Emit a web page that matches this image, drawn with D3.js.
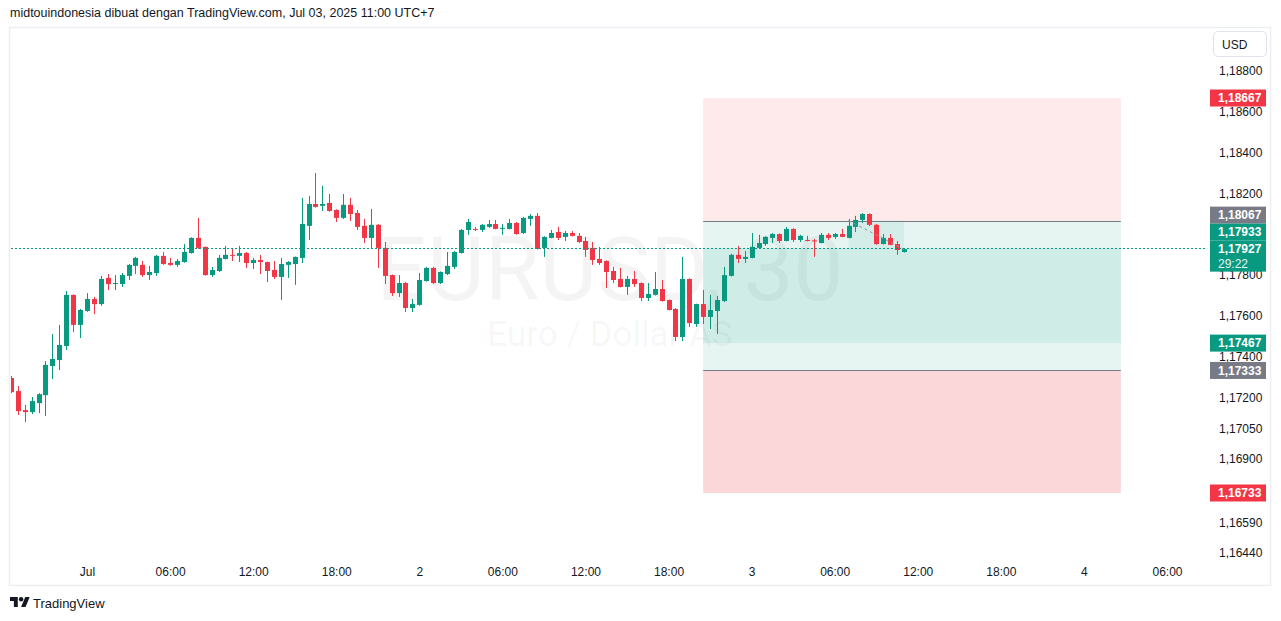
<!DOCTYPE html>
<html><head><meta charset="utf-8">
<script src="https://cdn.jsdelivr.net/npm/d3@7"></script>
<style>
html,body{margin:0;padding:0;background:#fff;}
svg{display:block;font-family:"Liberation Sans",Arial,sans-serif;}
</style></head><body>
<svg id="chart" width="1281" height="621"></svg>
<script>
// ---------- DATA ----------
const titleText = "midtouindonesia dibuat dengan TradingView.com, Jul 03, 2025 11:00 UTC+7";
const firstBar = "2025-06-30T18:30:00Z"; // chart time (UTC+7) stored as UTC
const barMinutes = 30;
const opens = [1.17296,1.17232,1.17139,1.17129,1.17173,1.17212,1.17355,1.17384,1.17453,1.17703,
1.17556,1.17624,1.17683,1.17658,1.17786,1.17758,1.17756,1.17796,1.17845,1.17850,
1.17800,1.17810,1.17894,1.17859,1.17850,1.17864,1.17908,1.17982,1.17938,1.17800,
1.17820,1.17879,1.17899,1.17894,1.17908,1.17859,1.17874,1.17864,1.17825,1.17791,
1.17850,1.17854,1.17884,1.18041,1.18148,1.18139,1.18153,1.18119,1.18080,1.18144,
1.18104,1.18041,1.17982,1.18046,1.17933,1.17800,1.17712,1.17761,1.17639,1.17654,
1.17771,1.17835,1.17761,1.17805,1.17840,1.17908,1.18021,1.18026,1.18021,1.18036,
1.18050,1.18029,1.18026,1.18055,1.18006,1.18075,1.18090,1.17933,1.17982,1.18011,
1.17987,1.18006,1.17992,1.17967,1.17933,1.17879,1.17869,1.17820,1.17781,1.17742,
1.17781,1.17761,1.17688,1.17703,1.17732,1.17678,1.17634,1.17497,1.17781,1.17560,
1.17658,1.17595,1.17624,1.17673,1.17796,1.17899,1.17879,1.17884,1.17933,1.17952,
1.17982,1.18001,1.17967,1.18026,1.17972,1.17972,1.17970,1.17957,1.17997,1.17987,
1.18001,1.17982,1.18036,1.18070,1.18099,1.18046,1.17952,1.17982,1.17952,1.17913];
const highs = [1.17306,1.17257,1.17164,1.17203,1.17222,1.17379,1.17511,1.17556,1.17722,1.17705,
1.17634,1.17712,1.17693,1.17796,1.17805,1.17800,1.17810,1.17854,1.17889,1.17869,
1.17845,1.17899,1.17913,1.17884,1.17879,1.17952,1.17985,1.18080,1.17940,1.17840,
1.17899,1.17943,1.17928,1.17943,1.17913,1.17884,1.17899,1.17866,1.17869,1.17884,
1.17869,1.17891,1.18178,1.18188,1.18300,1.18237,1.18197,1.18122,1.18197,1.18178,
1.18119,1.18075,1.18124,1.18050,1.17962,1.17803,1.17800,1.17766,1.17683,1.17810,
1.17840,1.17840,1.17818,1.17913,1.17918,1.18026,1.18075,1.18036,1.18050,1.18070,
1.18070,1.18050,1.18075,1.18060,1.18085,1.18099,1.18104,1.17990,1.18021,1.18036,
1.18016,1.18016,1.18006,1.17987,1.17962,1.17938,1.17872,1.17840,1.17835,1.17796,
1.17820,1.17764,1.17761,1.17815,1.17776,1.17680,1.17639,1.17889,1.17784,1.17660,
1.17727,1.17703,1.17698,1.17840,1.17904,1.17943,1.17918,1.18006,1.17997,1.17990,
1.18006,1.18004,1.18036,1.18029,1.17997,1.17992,1.17977,1.18006,1.18006,1.18006,
1.18026,1.18075,1.18090,1.18104,1.18102,1.18050,1.18001,1.18001,1.17967,1.17933];
const lows = [1.17222,1.17115,1.17080,1.17119,1.17124,1.17110,1.17291,1.17335,1.17433,1.17521,
1.17492,1.17620,1.17609,1.17649,1.17727,1.17727,1.17742,1.17776,1.17805,1.17791,
1.17776,1.17796,1.17850,1.17845,1.17840,1.17860,1.17905,1.17928,1.17797,1.17791,
1.17815,1.17876,1.17869,1.17864,1.17835,1.17830,1.17805,1.17766,1.17781,1.17678,
1.17786,1.17752,1.17859,1.17972,1.18130,1.18114,1.18110,1.18060,1.18075,1.18065,
1.18021,1.17957,1.17933,1.17835,1.17756,1.17698,1.17693,1.17619,1.17619,1.17650,
1.17768,1.17756,1.17756,1.17800,1.17830,1.17905,1.17997,1.18016,1.18011,1.18031,
1.18024,1.17997,1.18024,1.17998,1.18001,1.18041,1.17925,1.17889,1.17980,1.17972,
1.17967,1.17990,1.17957,1.17889,1.17850,1.17850,1.17737,1.17761,1.17740,1.17703,
1.17742,1.17673,1.17673,1.17700,1.17670,1.17627,1.17477,1.17477,1.17546,1.17546,
1.17560,1.17536,1.17511,1.17668,1.17793,1.17859,1.17859,1.17882,1.17930,1.17943,
1.17957,1.17957,1.17965,1.17962,1.17962,1.17965,1.17889,1.17955,1.17972,1.17977,
1.17985,1.17980,1.18011,1.18055,1.18041,1.17948,1.17950,1.17946,1.17899,1.17910];
const closes = [1.17227,1.17134,1.17129,1.17183,1.17217,1.17360,1.17389,1.17458,1.17703,1.17556,
1.17629,1.17683,1.17658,1.17781,1.17756,1.17761,1.17800,1.17850,1.17884,1.17800,
1.17815,1.17894,1.17854,1.17850,1.17869,1.17913,1.17982,1.17933,1.17800,1.17825,
1.17884,1.17899,1.17896,1.17908,1.17859,1.17874,1.17864,1.17820,1.17791,1.17854,
1.17864,1.17889,1.18050,1.18148,1.18134,1.18148,1.18114,1.18080,1.18144,1.18099,
1.18036,1.17982,1.18046,1.17933,1.17796,1.17712,1.17761,1.17639,1.17658,1.17776,
1.17835,1.17761,1.17815,1.17845,1.17913,1.18021,1.18060,1.18023,1.18046,1.18050,
1.18026,1.18031,1.18055,1.18001,1.18080,1.18090,1.17928,1.17987,1.18006,1.17982,
1.18006,1.17992,1.17962,1.17923,1.17874,1.17859,1.17815,1.17776,1.17742,1.17781,
1.17756,1.17688,1.17707,1.17732,1.17673,1.17629,1.17497,1.17781,1.17565,1.17658,
1.17595,1.17629,1.17678,1.17800,1.17899,1.17879,1.17889,1.17938,1.17957,1.17987,
1.18001,1.17967,1.18026,1.17972,1.17992,1.17967,1.17967,1.17997,1.17982,1.18001,
1.17987,1.18041,1.18070,1.18099,1.18046,1.17952,1.17982,1.17948,1.17923,1.17927];

const priceTicks = [1.18800,1.18600,1.18400,1.18200,1.18000,1.17800,1.17600,1.17400,1.17200,1.17050,1.16900,1.16750,1.16590,1.16440];
const timeTicks = ["2025-07-01T00:00:00Z","2025-07-01T06:00:00Z","2025-07-01T12:00:00Z","2025-07-01T18:00:00Z",
"2025-07-02T00:00:00Z","2025-07-02T06:00:00Z","2025-07-02T12:00:00Z","2025-07-02T18:00:00Z",
"2025-07-03T00:00:00Z","2025-07-03T06:00:00Z","2025-07-03T12:00:00Z","2025-07-03T18:00:00Z",
"2025-07-04T00:00:00Z","2025-07-04T06:00:00Z"];
const timeTickLabels = ["Jul","06:00","12:00","18:00","2","06:00","12:00","18:00","3","06:00","12:00","18:00","4","06:00"];

// position tools (short and long)
const shortPos = {entry:1.18067, stop:1.18667, target:1.17467};
const longPos  = {entry:1.17333, stop:1.16733, target:1.17933};
const toolStart = "2025-07-02T20:30:00Z";
const toolEnd   = "2025-07-04T02:40:00Z";
const entryHit  = "2025-07-03T07:00:00Z";
const currentPrice = 1.17927;
const countdown = "29:22";
const watermarkMain = "EURUSD, 30";
const watermarkSub = "Euro / Dollar AS";

// ---------- LAYOUT ----------
const W = 1281, H = 621;
const plot = {left:10, right:1206, top:28, bottom:555};
const UP = "#089981", DOWN = "#F23645", GREY = "#787B86", TXT = "#131722";

const svg = d3.select("#chart");
svg.append("rect").attr("width",W).attr("height",H).attr("fill","#fff");

const bars = opens.map((o,i)=>({
  t: d3.utcMinute.offset(new Date(firstBar), i*barMinutes),
  o, h:highs[i], l:lows[i], c:closes[i]
}));

const x = d3.scaleUtc()
  .domain([new Date("2025-07-01T00:00:00Z"), new Date("2025-07-04T06:00:00Z")])
  .range([87, 1167]);
const y = d3.scaleLinear().domain([1.16733, 1.18667]).range([493, 98]);
const bodyW = 5;

// title
svg.append("text").attr("x",10).attr("y",17).attr("fill",TXT)
  .style("font-size","12.5px").style("font-family","'Liberation Sans',Arial,sans-serif").text(titleText);

// frame
svg.append("rect").attr("x",9.5).attr("y",27.5).attr("width",1261).attr("height",558)
  .attr("fill","none").attr("stroke","#eceef2").attr("stroke-width",1.5);

// clip
svg.append("clipPath").attr("id","plotclip").append("rect")
  .attr("x",plot.left+1).attr("y",plot.top).attr("width",plot.right-plot.left-1).attr("height",plot.bottom-plot.top);
const g = svg.append("g").attr("clip-path","url(#plotclip)");

// watermark
const wmX = 610;
g.append("text").attr("x",wmX).attr("y",300).attr("text-anchor","middle")
  .style("font-family","Roboto,sans-serif").style("font-size","89px")
  .attr("fill","rgba(0,0,0,0.045)").text(watermarkMain);
g.append("text").attr("x",wmX).attr("y",346).attr("text-anchor","middle")
  .style("font-family","Roboto,sans-serif").style("font-size","35px")
  .attr("fill","rgba(0,0,0,0.045)").text(watermarkSub);

// position tools
const tx0 = x(new Date(toolStart)), tx1 = x(new Date(toolEnd));
function zone(p1,p2,fill){
  g.append("rect").attr("x",tx0).attr("width",tx1-tx0)
   .attr("y",y(Math.max(p1,p2))).attr("height",Math.abs(y(p1)-y(p2))).attr("fill",fill);
}
zone(shortPos.entry, shortPos.stop, "rgba(242,54,69,0.11)");
zone(shortPos.entry, shortPos.target, "rgba(8,153,129,0.10)");
zone(longPos.entry, longPos.target, "rgba(8,153,129,0.10)");
zone(longPos.entry, longPos.stop, "rgba(242,54,69,0.2)");
// active trade fill
const ex = x(new Date(entryHit)), cx = x(bars[bars.length-1].t);
g.append("rect").attr("x",ex).attr("width",cx-ex)
  .attr("y",y(shortPos.entry)).attr("height",y(currentPrice)-y(shortPos.entry))
  .attr("fill","rgba(8,153,129,0.08)");
[shortPos.entry, longPos.entry].forEach(p=>{
  g.append("line").attr("x1",tx0).attr("x2",tx1)
   .attr("y1",Math.round(y(p))+0.5).attr("y2",Math.round(y(p))+0.5)
   .attr("stroke",GREY).attr("stroke-width",1);
});

// candles
const cg = g.append("g");
bars.forEach(b=>{
  const col = b.c >= b.o ? UP : DOWN;
  const xc = Math.round(x(b.t));
  cg.append("line").attr("x1",xc+0.5).attr("x2",xc+0.5)
    .attr("y1",y(b.h)).attr("y2",y(b.l)).attr("stroke",col).attr("stroke-width",1);
  const top = y(Math.max(b.o,b.c)), bot = y(Math.min(b.o,b.c));
  cg.append("rect").attr("x",xc-2).attr("width",bodyW)
    .attr("y",top).attr("height",Math.max(1,bot-top)).attr("fill",col);
});

// trade path dashed line
g.append("line").attr("x1",ex).attr("y1",y(shortPos.entry)).attr("x2",cx).attr("y2",y(currentPrice))
  .attr("stroke","#9598a1").attr("stroke-width",1).attr("stroke-dasharray","3,3");

// current price line
const cpY = Math.round(y(currentPrice))-0.5;
g.append("line").attr("x1",plot.left+1).attr("x2",plot.right)
  .attr("y1",cpY).attr("y2",cpY)
  .attr("stroke",UP).attr("stroke-width",1).attr("stroke-dasharray","2,2")
  .attr("shape-rendering","crispEdges");

// price axis
const fmt = v => d3.format(".5f")(v).replace(".",",");
const yAxis = d3.axisRight(y).tickValues(priceTicks).tickSize(0).tickPadding(0).tickFormat(fmt);
const ya = svg.append("g").attr("transform","translate(1219,0)").call(yAxis);
ya.select(".domain").remove();
ya.selectAll("text").attr("fill",TXT).style("font-size","12px").style("font-family","'Liberation Sans',Arial,sans-serif");

// USD button
svg.append("rect").attr("x",1213.5).attr("y",31.5).attr("width",53).attr("height",25).attr("rx",4)
  .attr("fill","#fff").attr("stroke","#e0e3eb");
svg.append("text").attr("x",1222).attr("y",48.5).attr("fill",TXT).style("font-size","12px").text("USD");

// price labels with collision stacking
const labels = [
  {p:shortPos.stop, bg:DOWN},
  {p:shortPos.entry, bg:GREY},
  {p:longPos.target, bg:UP},
  {p:currentPrice, bg:UP, sub:countdown, fixed:true},
  {p:shortPos.target, bg:UP},
  {p:longPos.entry, bg:GREY},
  {p:longPos.stop, bg:DOWN}
].map(d=>({...d, h: d.sub?31:17}));
labels.forEach(d=>{ d.top = y(d.p) - 8.5; });
labels.sort((a,b)=>a.top-b.top);
const fi = labels.findIndex(d=>d.fixed);
for(let i=fi-1;i>=0;i--){ if(labels[i].top+labels[i].h > labels[i+1].top) labels[i].top = labels[i+1].top - labels[i].h; }
for(let i=fi+1;i<labels.length;i++){ const pb = labels[i-1].top+labels[i-1].h; if(labels[i].top < pb) labels[i].top = pb; }
const lg = svg.append("g");
labels.forEach(d=>{
  lg.append("rect").attr("x",1210).attr("y",d.top).attr("width",56).attr("height",d.h).attr("fill",d.bg);
  lg.append("text").attr("x",1218).attr("y",d.top+12.8).attr("fill","#fff")
    .style("font-size","12px").style("font-weight","bold").text(fmt(d.p));
  if(d.sub) lg.append("text").attr("x",1218).attr("y",d.top+27).attr("fill","#fff")
    .style("font-size","12px").style("opacity",0.9).text(d.sub);
});

// time axis
const xAxis = d3.axisBottom(x).tickValues(timeTicks.map(t=>new Date(t))).tickSize(0).tickPadding(0)
  .tickFormat((d,i)=>timeTickLabels[i]);
const xa = svg.append("g").attr("transform","translate(0,567)").call(xAxis);
xa.select(".domain").remove();
xa.selectAll("text").attr("fill",TXT).style("font-size","12px").style("font-family","'Liberation Sans',Arial,sans-serif");

// TradingView logo
const logo = svg.append("g").attr("transform","translate(10,594.8) scale(0.555)");
logo.append("path").attr("d","M14 22H7V11H0V4h14v18zM28 22h-8l7.5-18h8L28 22z").attr("fill",TXT);
logo.append("circle").attr("cx",20).attr("cy",8).attr("r",4).attr("fill",TXT);
svg.append("text").attr("x",33).attr("y",608).attr("fill",TXT)
  .style("font-size","13px").style("font-family","'Liberation Sans',Arial,sans-serif").text("TradingView");
</script>
</body></html>
